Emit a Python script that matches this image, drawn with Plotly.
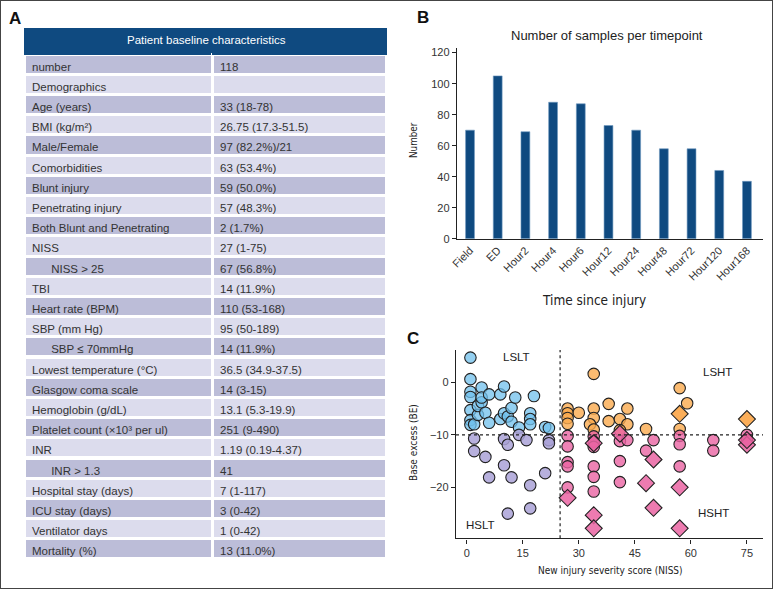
import plotly.graph_objects as go

# ---------------- Panel A: table data ----------------
NB = "\u00a0" * 6
GT = "\u02c3"  # small '>' glyph (plain '>' makes plotly tables enlarge the row)
row_labels = [
    "number", "Demographics", "Age (years)", "BMI (kg/m\u00b2)", "Male/Female",
    "Comorbidities", "Blunt injury", "Penetrating injury", "Both Blunt and Penetrating",
    "NISS", NB + "NISS " + GT + " 25", "TBI", "Heart rate (BPM)", "SBP (mm Hg)",
    NB + "SBP \u2264 70mmHg", "Lowest temperature (\u00b0C)", "Glasgow coma scale",
    "Hemoglobin (g/dL)", "Platelet count (\u00d710\u00b3 per ul)", "INR",
    NB + "INR " + GT + " 1.3", "Hospital stay (days)", "ICU stay (days)", "Ventilator days",
    "Mortality (%)",
]
row_values = [
    "118", "", "33 (18-78)", "26.75 (17.3-51.5)", "97 (82.2%)/21", "63 (53.4%)",
    "59 (50.0%)", "57 (48.3%)", "2 (1.7%)", "27 (1-75)", "67 (56.8%)", "14 (11.9%)",
    "110 (53-168)", "95 (50-189)", "14 (11.9%)", "36.5 (34.9-37.5)", "14 (3-15)",
    "13.1 (5.3-19.9)", "251 (9-490)", "1.19 (0.19-4.37)", "41", "7 (1-117)",
    "3 (0-42)", "1 (0-42)", "13 (11.0%)",
]
table_title = "Patient baseline characteristics"

# ---------------- Panel B: bar data ----------------
timepoints = ["Field", "ED", "Hour2", "Hour4", "Hour6", "Hour12", "Hour24",
              "Hour48", "Hour72", "Hour120", "Hour168"]
samples = [70, 105, 69, 88, 87, 73, 70, 58, 58, 44, 37]

# ---------------- Panel C: scatter data ----------------
lslt_x = [1, 1, 1, 1, 1, 1, 1, 2, 3, 3, 4, 4, 4, 5, 6, 6, 9, 9, 10, 10, 11, 12, 12, 13, 14, 17, 17, 17, 18, 21, 22]
lslt_y = [4.7, 0.6, -1.8, -2.8, -5.3, -7.2, -8.1, -8.0, -6.2, -4.5, -1.0, -3.8, -2.9, -5.8, -2.3, -7.7,
          -2.3, -7.0, -0.8, -5.9, -6.5, -4.9, -7.5, -2.9, -8.6, -5.9, -7.0, -8.0, -2.6, -8.5, -8.7]

hslt_x = [2, 10, 11, 14, 16, 22, 22, 2, 5, 10, 6, 12, 17, 21, 11, 17]
hslt_y = [-10.7, -10.8, -11.9, -10.0, -11.0, -11.0, -11.6, -13.1, -14.2, -15.8, -18.1, -18.1,
          -19.6, -17.3, -25.0, -24.0]

lsht_x = [34, 27, 27, 27, 27, 30, 34, 34, 33, 34, 38, 38, 41, 43, 43, 41, 48, 57, 59, 57]
lsht_y = [1.6, -5.0, -5.9, -6.8, -7.9, -5.8, -5.0, -6.8, -8.0, -9.0, -4.1, -7.4, -7.0, -5.0,
          -8.0, -9.1, -8.9, -1.1, -4.0, -8.9]
lsht_dx = [57, 75]
lsht_dy = [-6.0, -7.0]

hsht_x = [27, 27, 27, 27, 27, 34, 34, 34, 34, 34, 34, 41, 43, 41, 41, 48, 50, 57, 57, 57, 66, 66, 75, 75]
hsht_y = [-10.2, -12.2, -15.2, -16.0, -20.0, -10.3, -11.3, -12.3, -16.0, -18.0, -20.8, -11.2,
          -11.0, -15.0, -19.0, -13.0, -11.0, -10.2, -11.8, -16.0, -11.0, -13.0, -10.0, -11.0]
hsht_dx = [27, 34, 34, 34, 41, 48, 50, 50, 57, 57, 75, 75]
hsht_dy = [-22.0, -25.3, -27.8, -11.6, -9.8, -19.2, -14.7, -23.9, -20.0, -27.8, -11.9, -11.0]

quad_labels = ["LSLT", "HSLT", "LSHT", "HSHT"]
quad_x = [13.2, 3.6, 67, 66]
quad_y = [4.8, -27.2, 2.0, -24.9]

# ---------------- styles ----------------
W, H = 773, 589
NAVY = "#0f4a80"
DARK_ROW = "#bcbdd8"
LIGHT_ROW = "#dcdced"
TXT = "#333333"
FONT = "Liberation Sans, Arial, sans-serif"
NARROW = ("Noto Sans Condensed, DejaVu Sans Condensed, Liberation Sans Narrow, "
          "Arial Narrow, Liberation Sans, sans-serif")


def px(x):
    return x / W


def py(y):
    return 1 - y / H


fig = go.Figure()

row_fill = [DARK_ROW if i % 2 == 0 else LIGHT_ROW for i in range(len(row_labels))]
fig.add_trace(go.Table(
    domain=dict(x=[px(24), px(386)], y=[py(568), py(28)]),
    columnwidth=[188, 174],
    header=dict(values=["", ""], fill_color=NAVY, line=dict(color=NAVY, width=1), height=26),
    cells=dict(values=[row_labels, row_values], fill_color=[row_fill, row_fill],
               line=dict(color="white", width=3), height=20.2, align="left",
               font=dict(family=FONT, size=11.5, color=TXT)),
))

fig.add_trace(go.Bar(x=timepoints, y=samples, xaxis="x", yaxis="y",
                     marker=dict(color=NAVY, line=dict(color="#6f98c0", width=0.6)),
                     width=0.32))

def sc(x, y, color, symbol, size):
    return go.Scatter(x=x, y=y, mode="markers", xaxis="x2", yaxis="y2",
                      marker=dict(color=color, symbol=symbol, size=size,
                                  line=dict(color="#222222", width=1.1)))

fig.add_trace(sc(lslt_x, lslt_y, "rgba(112,192,236,0.75)", "circle", 11.5))
fig.add_trace(sc(hslt_x, hslt_y, "rgba(170,162,215,0.85)", "circle", 11.5))
fig.add_trace(sc(lsht_x, lsht_y, "rgba(250,170,78,0.8)", "circle", 11.5))
fig.add_trace(sc(hsht_x, hsht_y, "rgba(234,100,162,0.8)", "circle", 11.5))
fig.add_trace(sc(lsht_dx, lsht_dy, "rgba(250,160,60,0.85)", "diamond", 13))
fig.add_trace(sc(hsht_dx, hsht_dy, "rgba(234,100,162,0.85)", "diamond", 13))

axis_common = dict(showline=True, linecolor="#222222", linewidth=1.4, showgrid=False,
                   zeroline=False, automargin=False,
                   tickfont=dict(family=FONT, size=11, color=TXT),
                   ticks="outside", ticklen=4, tickcolor="#222222", tickwidth=1.2)

fig.update_layout(
    width=W, height=H, margin=dict(l=0, r=0, t=0, b=0, autoexpand=False),
    paper_bgcolor="white", plot_bgcolor="white", showlegend=False,
    xaxis=dict(axis_common, domain=[px(457), px(763)], anchor="y",
               range=[-0.47, 10.58], ticks="", tickangle=-45),
    yaxis=dict(axis_common, domain=[py(238.7), py(48.3)], anchor="x",
               range=[0, 122.8], tickvals=list(range(0, 121, 20))),
    xaxis2=dict(axis_common, domain=[px(456), px(763)], anchor="y2",
                range=[-2.86, 79.3], tickvals=[0, 15, 30, 45, 60, 75]),
    yaxis2=dict(axis_common, domain=[py(538.3), py(350)], anchor="x2",
                range=[-29.7, 6.15], tickvals=[-20, -10, 0]),
)

fig.add_shape(type="line", xref="x2 domain", yref="y2", x0=0, x1=1, y0=-10, y1=-10,
              line=dict(color="#222222", width=1.2, dash="3px,3px"))
fig.add_shape(type="line", xref="x2", yref="y2 domain", x0=25, x1=25, y0=0, y1=1,
              line=dict(color="#222222", width=1.2, dash="3px,3px"))

for t, qx, qy in zip(quad_labels, quad_x, quad_y):
    fig.add_annotation(x=qx, y=qy, xref="x2", yref="y2", text=t, showarrow=False,
                       xanchor="center", yanchor="middle",
                       font=dict(family=FONT, size=11.5, color="#222222"))

def ann(text, x, y, size=12, family=FONT, angle=0, color="#222222"):
    fig.add_annotation(x=px(x), y=py(y), xref="paper", yref="paper", text=text,
                       showarrow=False, textangle=angle, xanchor="center", yanchor="middle",
                       font=dict(family=family, size=size, color=color))

ann(table_title, 206, 40, size=11.5, color="white")
ann("<b>A</b>", 15, 19, size=17, color="#111111")
ann("<b>B</b>", 423, 18, size=17, color="#111111")
ann("<b>C</b>", 413, 338, size=17, color="#111111")
ann("Number of samples per timepoint", 607, 35, size=13)
ann("Number", 413, 140, size=9.8, family=NARROW, angle=-90)
ann("Time since injury", 594, 300, size=13.5, family=NARROW)
ann("Base excess (BE)", 413, 443, size=10, family=NARROW, angle=-90)
ann("New injury severity score (NISS)", 610, 570, size=10, family=NARROW)

fig.add_shape(type="rect", xref="paper", yref="paper", x0=0, x1=1, y0=0, y1=1,
              line=dict(color="#444444", width=2), fillcolor="rgba(0,0,0,0)", layer="above")

fig.write_html("out.html", config={"displayModeBar": False},
               post_script="document.body.style.margin='0';document.body.style.overflow='hidden';")
